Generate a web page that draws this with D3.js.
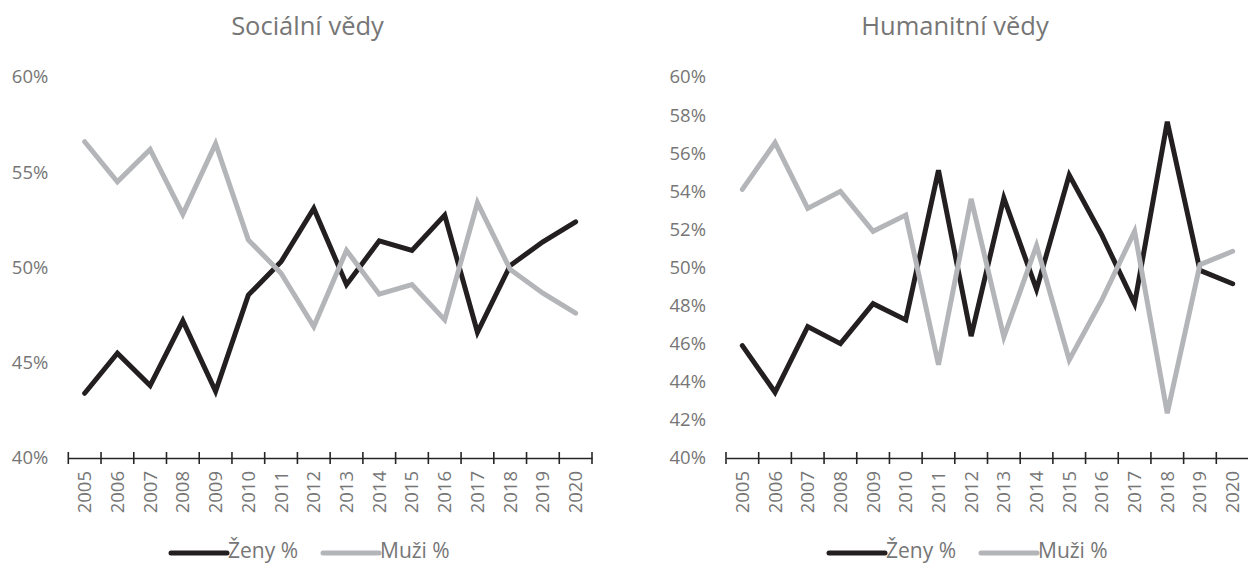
<!DOCTYPE html>
<html>
<head>
  <title>Sociální a humanitní vědy</title>
  <script src="https://cdn.jsdelivr.net/npm/d3@7"></script>
  <style>
    body { margin: 0; font-family: "Open Sans", sans-serif; background: #fff; }
    .line { fill: none; stroke-width: 5; stroke-linejoin: miter; stroke-linecap: round; }
    .tick text { fill: #767676; font-size: 18.5px; font-family: "Open Sans", sans-serif; }
    .title { fill: #767676; font-size: 25.5px; }
    .legend text { fill: #767676; font-size: 21px; }
  </style>
</head>
<body>
  <div id="chart"></div>
  <script>
    const years = ["2005","2006","2007","2008","2009","2010","2011","2012","2013","2014","2015","2016","2017","2018","2019","2020"];

    // Sociální vědy
    const socZeny = [43.4, 45.5, 43.8, 47.2, 43.5, 48.55, 50.3, 53.1, 49.1, 51.4, 50.9, 52.75, 46.6, 50.1, 51.35, 52.4];
    const socMuzi = [56.6, 54.5, 56.2, 52.8, 56.5, 51.45, 49.7, 46.9, 50.9, 48.6, 49.1, 47.25, 53.4, 49.9, 48.65, 47.6];
    const socTicks = [40, 45, 50, 55, 60];

    // Humanitní vědy
    const humZeny = [45.9, 43.45, 46.9, 46.0, 48.1, 47.25, 55.1, 46.4, 53.65, 48.85, 54.85, 51.7, 48.1, 57.65, 49.85, 49.15];
    const humMuzi = [54.1, 56.55, 53.1, 54.0, 51.9, 52.75, 44.9, 53.6, 46.35, 51.15, 45.15, 48.3, 51.9, 42.35, 50.15, 50.85];
    const humTicks = [40, 42, 44, 46, 48, 50, 52, 54, 56, 58, 60];

    const seriesNames = ["Ženy %", "Muži %"];
    const colors = ["#231f20", "#b4b5b8"];

    const W = 1248, H = 563;
    const svg = d3.select("#chart").append("svg")
      .attr("width", W).attr("height", H);

    function drawChart(opts) {
      const x = d3.scaleBand().domain(years).range([opts.x0, opts.x1]);
      const y = d3.scaleLinear().domain([40, 60]).range([458, 77]);
      const g = svg.append("g");

      // y axis labels only
      const yAx = g.append("g")
        .attr("transform", `translate(${opts.x0 - 20},0)`)
        .call(d3.axisLeft(y).tickValues(opts.ticks).tickSize(0).tickPadding(0)
          .tickFormat(d => d + "%"));
      yAx.select(".domain").remove();

      // x axis with crossing ticks
      const xAx = g.append("g")
        .attr("transform", "translate(0,458)")
        .call(d3.axisBottom(x).tickSize(0).tickPadding(0));
      xAx.select(".domain").attr("stroke", "#262626").attr("stroke-width", 1.6);
      xAx.selectAll(".tick text")
        .attr("transform", "rotate(-90)")
        .attr("text-anchor", "end")
        .attr("x", -13)
        .attr("y", 0)
        .attr("dy", "0.35em");
      const edges = years.map(d => x(d)).concat([opts.x1]);
      xAx.selectAll(".edge").data(edges).join("line")
        .attr("class", "edge")
        .attr("x1", d => d).attr("x2", d => d)
        .attr("y1", -6).attr("y2", 6)
        .attr("stroke", "#262626").attr("stroke-width", 1.6);

      const line = d3.line()
        .x((d, i) => x(years[i]) + x.bandwidth() / 2)
        .y(d => y(d));

      [opts.zeny, opts.muzi].forEach((vals, k) => {
        g.append("path")
          .datum(vals)
          .attr("class", "line")
          .attr("stroke", colors[k])
          .attr("d", line);
      });

      g.append("text")
        .attr("class", "title")
        .attr("x", opts.titleX).attr("y", 35)
        .attr("text-anchor", "middle")
        .text(opts.title);

      const leg = g.append("g").attr("class", "legend");
      seriesNames.forEach((name, k) => {
        const lx = opts.legendX + k * 152;
        leg.append("line")
          .attr("x1", lx).attr("x2", lx + 56)
          .attr("y1", 553).attr("y2", 553)
          .attr("stroke", colors[k]).attr("stroke-width", 5)
          .attr("stroke-linecap", "round");
        leg.append("text")
          .attr("x", lx + 57).attr("y", 558)
          .text(name);
      });
    }

    drawChart({ title: "Sociální vědy", x0: 68.3, x1: 592, ticks: socTicks,
      zeny: socZeny, muzi: socMuzi, titleX: 307.5, legendX: 171 });
    drawChart({ title: "Humanitní vědy", x0: 726, x1: 1249, ticks: humTicks,
      zeny: humZeny, muzi: humMuzi, titleX: 955, legendX: 829 });
  </script>
</body>
</html>
